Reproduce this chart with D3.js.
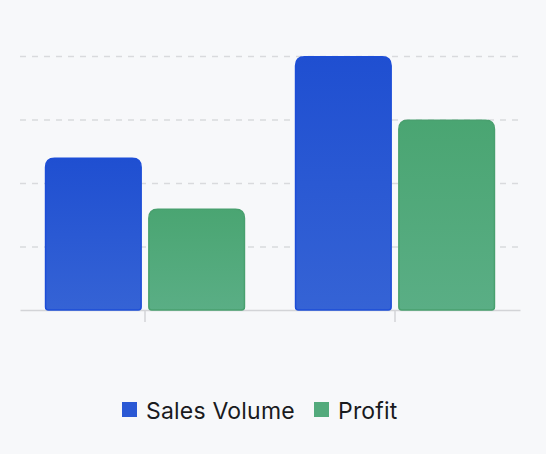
<!DOCTYPE html>
<html><head><meta charset="utf-8">
<script src="https://cdn.jsdelivr.net/npm/d3@7"></script>
<style>
html,body{margin:0;padding:0;background:#f7f8fa;}
svg{display:block;font-family:Inter,"Noto Sans",sans-serif;}
</style></head>
<body><svg id="c" width="546" height="454"></svg>
<script>
const categories = ["Q1", "Q2"];
const seriesNames = ["Sales Volume", "Profit"];
const salesVolume = [120, 200];
const profit = [80, 150];
const yTicks = [0, 50, 100, 150, 200];

const W = 546, H = 454;
const m = {left: 20, right: 26, top: 56, bottom: 144};
const svg = d3.select("#c");
const defs = svg.append("defs");
const grads = [
  {id: "gBlue", top: "#1f4fd1", bot: "#3563d5", stroke: "#1d4ed8"},
  {id: "gGreen", top: "#4aa572", bot: "#5aae85", stroke: "#49a06f"}
];
grads.forEach(g => {
  const lg = defs.append("linearGradient").attr("id", g.id).attr("x1", 0).attr("x2", 0).attr("y1", 0).attr("y2", 1);
  lg.append("stop").attr("offset", "0%").attr("stop-color", g.top);
  lg.append("stop").attr("offset", "100%").attr("stop-color", g.bot);
});

const x0 = d3.scaleBand().domain(categories).range([m.left, W - m.right]).paddingInner(0).paddingOuter(0);
const x1 = d3.scaleBand().domain(seriesNames).range([0, x0.bandwidth()]).paddingInner(0.06).paddingOuter(0.24);
const y = d3.scaleLinear().domain([0, 200]).range([H - m.bottom, m.top]);

// grid
svg.append("g").selectAll("line").data(yTicks.filter(t => t > 0)).join("line")
  .attr("x1", m.left).attr("x2", W - m.right)
  .attr("y1", d => y(d) + 0.5).attr("y2", d => y(d) + 0.5)
  .attr("stroke", "#d9dadd").attr("stroke-width", 1.5).attr("stroke-dasharray", "6,6");

// x axis
const xAxis = d3.axisBottom(x0).tickSizeInner(12).tickSizeOuter(0).tickFormat("");
const ax = svg.append("g").attr("transform", `translate(0,${y(0)})`).call(xAxis);
ax.select(".domain").attr("stroke", "#d3d4d7").attr("stroke-width", 1.5);
ax.selectAll(".tick line").attr("stroke", "#d3d4d7").attr("stroke-width", 1.5);

function barPath(x, yTop, w, h, r, rb) {
  const yb = yTop + h;
  return `M${x},${yb - rb} L${x},${yTop + r} Q${x},${yTop} ${x + r},${yTop} L${x + w - r},${yTop} Q${x + w},${yTop} ${x + w},${yTop + r} L${x + w},${yb - rb} Q${x + w},${yb} ${x + w - rb},${yb} L${x + rb},${yb} Q${x},${yb} ${x},${yb - rb} Z`;
}

const data = categories.map((c, i) => ({c, vals: [salesVolume[i], profit[i]]}));
const g = svg.append("g");
data.forEach(d => {
  d.vals.forEach((v, j) => {
    const bx = x0(d.c) + x1(seriesNames[j]);
    const bw = x1.bandwidth();
    const yt = y(v), h = y(0) - y(v);
    g.append("path")
      .attr("d", barPath(bx + 0.75, yt + 0.75, bw - 1.5, h - 0.75, 9, 3))
      .attr("fill", `url(#${grads[j].id})`)
      .attr("stroke", grads[j].stroke).attr("stroke-width", 1.5);
  });
});

// legend
const leg = svg.append("g");
const items = [{name: seriesNames[0], x: 122, c: "#2a58d4"}, {name: seriesNames[1], x: 314, c: "#53aa7c"}];
items.forEach((it, j) => {
  leg.append("rect").attr("x", it.x).attr("y", 402).attr("width", 15).attr("height", 15).attr("fill", it.c);
  leg.append("text").attr("x", it.x + 24).attr("y", 418.5).attr("font-size", 23).attr("letter-spacing", 0.2).attr("fill", "#1a1b1e").text(it.name);
});
</script></body></html>
